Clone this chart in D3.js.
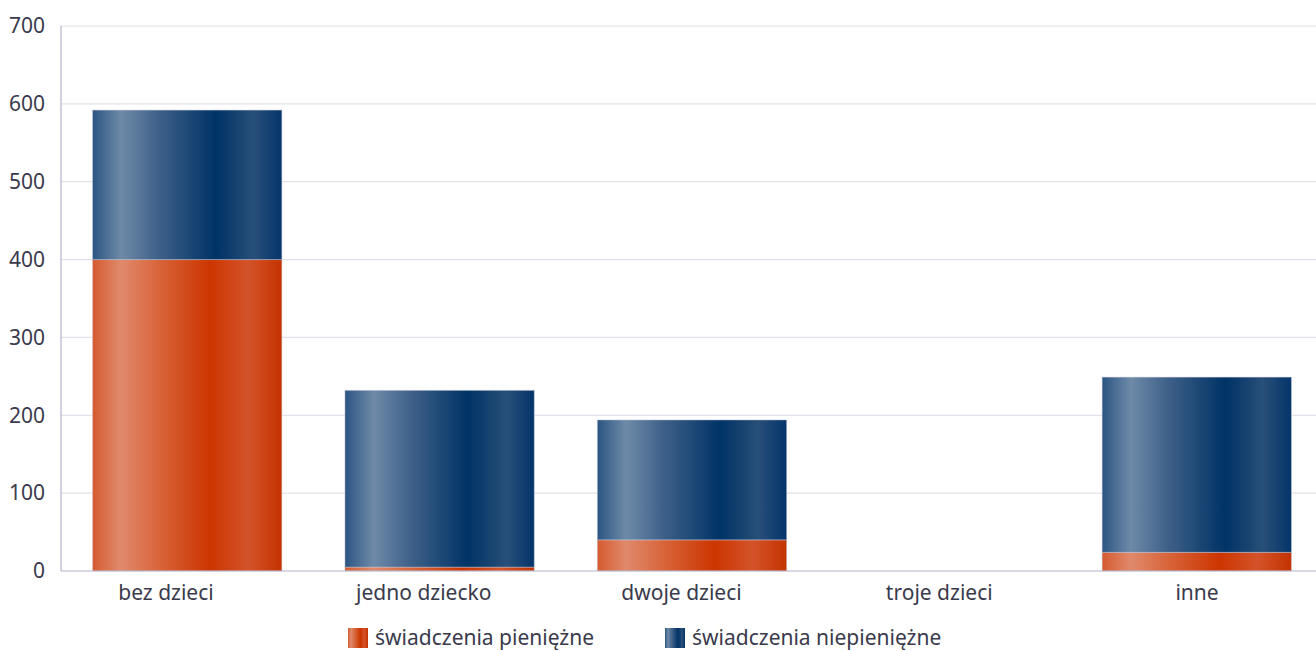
<!DOCTYPE html>
<html><head><meta charset="utf-8">
<script src="https://cdn.jsdelivr.net/npm/d3@7"></script>
<style>body{margin:0;background:#fff;overflow:hidden}svg{display:block}text{font-family:"Noto Sans",sans-serif;fill:#3a3a4c}</style>
</head><body><svg id="c" width="1316" height="651"></svg>
<script>
const categories = ["bez dzieci","jedno dziecko","dwoje dzieci","troje dzieci","inne"];
const seriesNames = ["świadczenia pieniężne","świadczenia niepieniężne"];
const pieniezne = [400, 5, 40, 0, 24];
const niepieniezne = [192, 227, 154, 0, 225];
const yTicks = [0,100,200,300,400,500,600,700];

(function(){
const svg = d3.select("#c");
const W=1316,H=651;
const mL=61, mR=1323, mT=26, mB=571;
const fs="21px";
const x = d3.scaleBand().domain(categories).range([mL,mR]).paddingInner(0.25).paddingOuter(0.125);
const xLab = d3.scalePoint().domain(categories).range([165.5,1196.5]);
const y = d3.scaleLinear().domain([0,700]).range([mB,mT]);

const defs = svg.append("defs");
function grad(id, stops){
  const g = defs.append("linearGradient").attr("id",id).attr("x1","0%").attr("x2","100%").attr("y1","0%").attr("y2","0%");
  stops.forEach(s=>g.append("stop").attr("offset",s[0]).attr("stop-color",s[1]));
}
grad("gO",[["0%","#d55a30"],["15%","#e08a6c"],["35%","#d8643a"],["62%","#cc3500"],["82%","#d4532a"],["100%","#c43300"]]);
grad("gB",[["0%","#2b5582"],["15%","#6e8aa8"],["35%","#3e6088"],["65%","#003366"],["85%","#284f78"],["100%","#04346a"]]);

svg.append("g").selectAll("line").data(yTicks.filter(d=>d>0)).join("line")
  .attr("x1",mL).attr("x2",W).attr("y1",d=>y(d)).attr("y2",d=>y(d))
  .attr("stroke","#e2e2ea").attr("stroke-width",1.2);

const stack = d3.stack().keys([0,1]).value((d,k)=>k===0?pieniezne[d]:niepieniezne[d])(categories.map((c,i)=>i));
const fills=["url(#gO)","url(#gB)"];
stack.forEach((layer,k)=>{
  svg.append("g").selectAll("rect").data(layer).join("rect")
    .attr("x",(d,i)=>x(categories[i])).attr("width",x.bandwidth())
    .attr("y",d=>y(d[1])).attr("height",d=>Math.max(0,y(d[0])-y(d[1])))
    .attr("fill",fills[k]).attr("stroke",d=>(d[1]-d[0])>0?"rgba(200,200,215,0.45)":"none").attr("stroke-width",1);
});

svg.append("line").attr("x1",mL).attr("x2",mL).attr("y1",mT).attr("y2",mB).attr("stroke","#b4b4c8").attr("stroke-width",1.2);
svg.append("line").attr("x1",mL).attr("x2",W).attr("y1",mB).attr("y2",mB).attr("stroke","#b4b4c8").attr("stroke-width",1.2);

const ya = svg.append("g").attr("transform",`translate(${mL-16},0)`)
  .call(d3.axisLeft(y).tickValues(yTicks).tickSize(0).tickPadding(0));
ya.select(".domain").remove();
ya.selectAll("text").style("font-size",fs).attr("fill","#3a3a4c").attr("dy","0.32em");

const xa = svg.append("g").attr("transform",`translate(0,${mB+14})`)
  .call(d3.axisBottom(xLab).tickSize(0).tickPadding(0));
xa.select(".domain").remove();
xa.selectAll("text").style("font-size",fs).attr("fill","#3a3a4c").attr("dy","0.71em");

const legX=[348,665];
const lg = svg.append("g");
seriesNames.forEach((n,i)=>{
  lg.append("rect").attr("x",legX[i]).attr("y",628).attr("width",20).attr("height",20).attr("fill",fills[i]);
  lg.append("text").attr("x",legX[i]+27).attr("y",638).attr("dy","0.35em").style("font-size",fs).text(n);
});
})();
</script></body></html>
